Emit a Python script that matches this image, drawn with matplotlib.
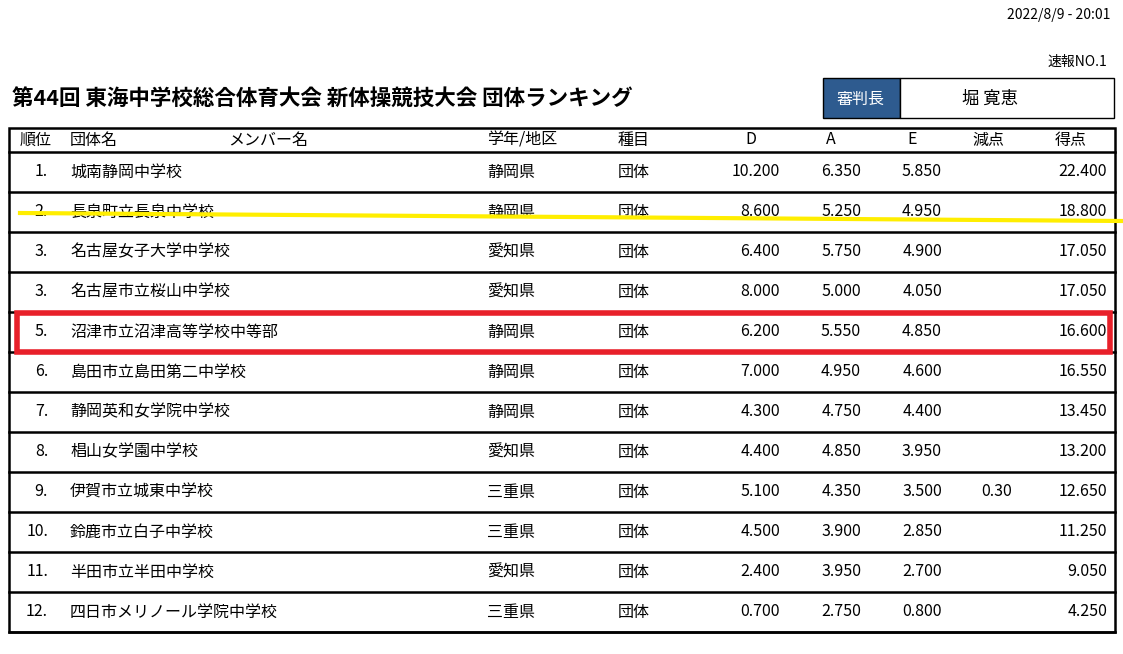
import matplotlib
matplotlib.use("Agg")
import matplotlib.pyplot as plt
from matplotlib.patches import Rectangle

plt.rcParams["font.family"] = ["Noto Sans CJK JP", "DejaVu Sans"]

ranks = ["1.", "2.", "3.", "3.", "5.", "6.", "7.", "8.", "9.", "10.", "11.", "12."]
teams = ["城南静岡中学校", "長泉町立長泉中学校", "名古屋女子大学中学校", "名古屋市立桜山中学校",
         "沼津市立沼津高等学校中等部", "島田市立島田第二中学校", "静岡英和女学院中学校",
         "椙山女学園中学校", "伊賀市立城東中学校", "鈴鹿市立白子中学校", "半田市立半田中学校",
         "四日市メリノール学院中学校"]
regions = ["静岡県", "静岡県", "愛知県", "愛知県", "静岡県", "静岡県", "静岡県", "愛知県",
           "三重県", "三重県", "愛知県", "三重県"]
event = "団体"
D = [10.200, 8.600, 6.400, 8.000, 6.200, 7.000, 4.300, 4.400, 5.100, 4.500, 2.400, 0.700]
A = [6.350, 5.250, 5.750, 5.000, 5.550, 4.950, 4.750, 4.850, 4.350, 3.900, 3.950, 2.750]
E = [5.850, 4.950, 4.900, 4.050, 4.850, 4.600, 4.400, 3.950, 3.500, 2.850, 2.700, 0.800]
penalty = [None, None, None, None, None, None, None, None, 0.30, None, None, None]
score = [22.400, 18.800, 17.050, 17.050, 16.600, 16.550, 13.450, 13.200, 12.650, 11.250, 9.050, 4.250]
headers = ["順位", "団体名", "メンバー名", "学年/地区", "種目", "D", "A", "E", "減点", "得点"]

fig = plt.figure(figsize=(11.23, 6.54), dpi=100)
ax = fig.add_axes([0, 0, 1, 1])
ax.set_xlim(0, 1123)
ax.set_ylim(654, 0)
ax.axis("off")

fs = 11.5
ax.text(1110, 15, "2022/8/9 - 20:01", ha="right", va="center", fontsize=10)
ax.text(1107, 62, "速報NO.1", ha="right", va="center", fontsize=10)
ax.text(12, 99, "第44回 東海中学校総合体育大会 新体操競技大会 団体ランキング", ha="left", va="center",
        fontsize=15.5, fontweight="bold")
ax.add_patch(Rectangle((823, 78), 77, 40, facecolor="#2e5b8f", edgecolor="black", lw=1))
ax.add_patch(Rectangle((900, 78), 214, 40, facecolor="white", edgecolor="black", lw=1))
ax.text(861, 99, "審判長", ha="center", va="center", color="white", fontsize=fs)
ax.text(990, 99, "堀 寛恵", ha="center", va="center", fontsize=12.5)

# table
top, hdr_bottom, row_h = 128, 152, 40
n = len(teams)
bottom = hdr_bottom + row_h * n
ax.add_patch(Rectangle((9, top), 1106, bottom - top, facecolor="none", edgecolor="black", lw=1.8))
hx = [20, 70, 228, 487, 618, 745, 826, 907, 972, 1055]
for x, h in zip(hx, headers):
    ax.text(x, 140, h, ha="left", va="center", fontsize=fs)
for i in range(n + 1):
    y = hdr_bottom + row_h * i
    ax.plot([9, 1115], [y, y], color="black", lw=1.8)

for i in range(n):
    y = hdr_bottom + row_h * i + 20
    ax.text(48, y, ranks[i], ha="right", va="center", fontsize=fs)
    ax.text(70, y, teams[i], ha="left", va="center", fontsize=fs)
    ax.text(487, y, regions[i], ha="left", va="center", fontsize=fs)
    ax.text(618, y, event, ha="left", va="center", fontsize=fs)
    ax.text(780, y, f"{D[i]:.3f}", ha="right", va="center", fontsize=fs)
    ax.text(861, y, f"{A[i]:.3f}", ha="right", va="center", fontsize=fs)
    ax.text(942, y, f"{E[i]:.3f}", ha="right", va="center", fontsize=fs)
    if penalty[i] is not None:
        ax.text(1012, y, f"{penalty[i]:.2f}", ha="right", va="center", fontsize=fs)
    ax.text(1107, y, f"{score[i]:.3f}", ha="right", va="center", fontsize=fs)

# highlights
ax.plot([20, 1123], [213, 221], color="#ffee00", lw=3, zorder=5)
ax.add_patch(Rectangle((17, 313), 1093, 39, facecolor="none", edgecolor="#e8202a", lw=4, zorder=6))

fig.savefig("out.png", dpi=100)
